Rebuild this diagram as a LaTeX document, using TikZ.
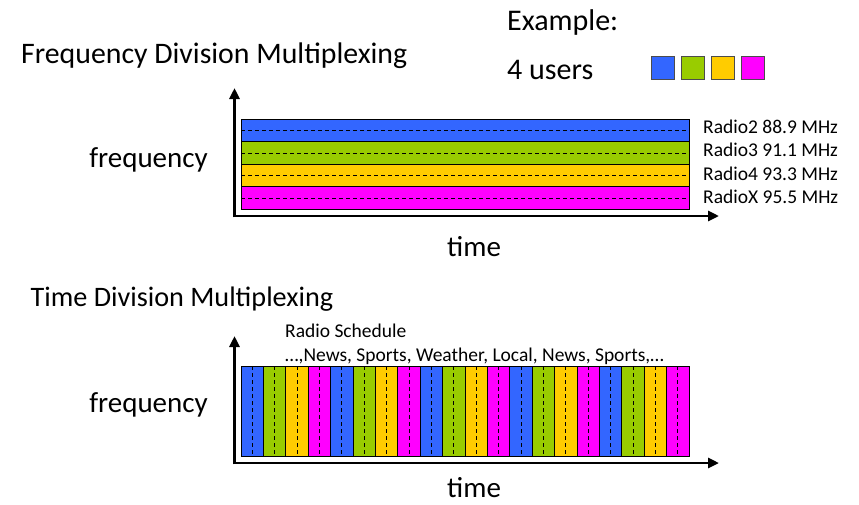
\documentclass[tikz,border=0pt]{standalone}
\usepackage{fontspec}
\setmainfont{Carlito}
\usetikzlibrary{arrows.meta}
\definecolor{ublue}{HTML}{3366FF}
\definecolor{ugreen}{HTML}{99CC00}
\definecolor{uyellow}{HTML}{FFCC00}
\definecolor{umagenta}{HTML}{FF00FF}

\begin{document}
\begin{tikzpicture}[x=1pt,y=-1pt,
  big/.style={font=\fontsize{29}{34}\selectfont, inner sep=0pt, anchor=base west},
  small/.style={font=\fontsize{19.5}{23}\selectfont, inner sep=0pt, anchor=base west},
  axis/.style={line width=2.8pt, -{Triangle[length=11pt,width=10pt]}},
  slot/.style={draw=black, line width=0.9pt},
  mid/.style={dash pattern=on 4pt off 3pt, line width=0.8pt},
  chip/.style={draw=black!70, line width=0.8pt},
]
\useasboundingbox (0,0) rectangle (859,504);

% ---------- legend ----------
\node[big, font=\fontsize{30}{35}\selectfont] (example) at (507,30) {Example:};
\node[big, font=\fontsize{30}{35}\selectfont] (users) at (507,79) {4 users};
\foreach \c [count=\k from 0] in {ublue,ugreen,uyellow,umagenta}
  \filldraw[chip, fill=\c] (651+30*\k,56) rectangle ++(23,23);

% ---------- frequency division ----------
\node[big, font=\fontsize{29.8}{35}\selectfont] (fdmtitle) at (21,63) {Frequency Division Multiplexing};
\foreach \c [count=\k from 0] in {ublue,ugreen,uyellow,umagenta}{
  \filldraw[slot, fill=\c] (241,119+22.6*\k) rectangle (689,119+22.6*\k+22.6);
  \draw[mid] (241,119+22.6*\k+11.3) -- (689,119+22.6*\k+11.3);
}
\coordinate (fo) at (234.5,216);
\coordinate (fy) at (234.5,88);
\coordinate (fx) at (719,216);
\draw[axis] ([yshift=-1.4pt]fo) -- (fy);
\draw[axis] ([xshift=-1.4pt]fo) -- (fx);
\node[big, anchor=base east] (ffreq) at (208,167) {frequency};
\node[big] (ftime) at (447,256) {time};

\node[small] (r2) at (703,133) {Radio2 88.9 MHz};
\node[small] (r3) at (703,156.5) {Radio3 91.1 MHz};
\node[small] (r4) at (703,180) {Radio4 93.3 MHz};
\node[small] (rx) at (703,203.5) {RadioX 95.5 MHz};

% ---------- time division ----------
\node[big, font=\fontsize{28.2}{33}\selectfont] (tdmtitle) at (30.5,306.5) {Time Division Multiplexing};
\foreach \k in {0,...,19}{
  \pgfmathtruncatemacro{\m}{mod(\k,4)}
  \ifcase\m \def\c{ublue}\or \def\c{ugreen}\or \def\c{uyellow}\or \def\c{umagenta}\fi
  \filldraw[slot, fill=\c] (241+22.4*\k,366) rectangle (241+22.4*\k+22.4,456);
  \draw[mid] (241+22.4*\k+11.2,366) -- (241+22.4*\k+11.2,456);
}
\coordinate (to) at (234.5,463);
\coordinate (ty) at (234.5,336);
\coordinate (tx) at (719,463);
\draw[axis] ([yshift=-1.4pt]to) -- (ty);
\draw[axis] ([xshift=-1.4pt]to) -- (tx);
\node[big, anchor=base east] (tfreq) at (208,412) {frequency};
\node[big] (ttime) at (447,497.5) {time};

\node[small] (sched) at (285,337.5) {Radio Schedule};
\node[small] (slist) at (285,361) {…,News, Sports, Weather, Local, News, Sports,…};
\end{tikzpicture}
\end{document}
